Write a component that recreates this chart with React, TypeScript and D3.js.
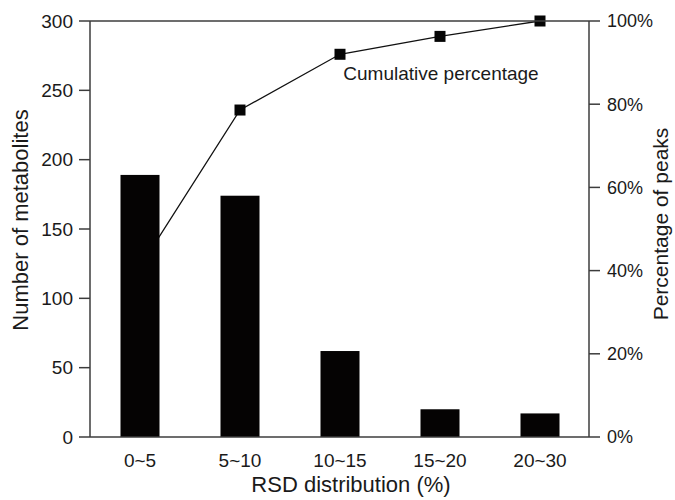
import React from "react";
import { scaleBand, scaleLinear, line } from "d3";

const categories = ["0~5", "5~10", "10~15", "15~20", "20~30"];
const counts = [189, 174, 62, 20, 17];
const cumulativePct = [40.9, 78.6, 92.0, 96.3, 100];
const countTicks = [0, 50, 100, 150, 200, 250, 300];
const pctTicks = [0, 20, 40, 60, 80, 100];

const W = 675;
const H = 500;
const left = 90;
const right = 589;
const top = 21;
const bottom = 437;
const font = "'Liberation Sans', Arial, sans-serif";
const axisColor = "#3c3c3c";

function App() {
  const x = scaleBand<string>()
    .domain(categories)
    .range([left, left + 500])
    .paddingInner(0.61)
    .paddingOuter(0.305);
  const yCount = scaleLinear().domain([0, 300]).range([bottom, top]);
  const yPct = scaleLinear().domain([0, 100]).range([bottom, top]);

  const pts = categories.map((c, i) => ({
    x: (x(c) ?? 0) + x.bandwidth() / 2,
    y: yPct(cumulativePct[i]),
  }));
  const path = line<{ x: number; y: number }>()
    .x(d => d.x)
    .y(d => d.y)(pts);

  return (
    <svg
      width={W}
      height={H}
      style={{ position: "absolute", left: 0, top: 0, background: "#fff" }}
      fontFamily={font}
    >
      {/* cumulative line sits behind the bars */}
      <path d={path ?? ""} fill="none" stroke="#111" strokeWidth={1.3} />
      {pts.map((p, i) => (
        <rect key={i} x={p.x - 5.5} y={p.y - 5.5} width={11} height={11} fill="#050505" />
      ))}

      {categories.map((c, i) => (
        <rect
          key={c}
          x={x(c)}
          y={yCount(counts[i])}
          width={x.bandwidth()}
          height={bottom - yCount(counts[i])}
          fill="#050303"
        />
      ))}

      {/* frame: left, right, bottom, top */}
      <g stroke={axisColor} strokeWidth={1.5} fill="none">
        <line x1={left} x2={left} y1={top} y2={bottom} />
        <line x1={right} x2={right} y1={top} y2={bottom} />
        <line x1={left} x2={right} y1={bottom} y2={bottom} />
        <line x1={left} x2={right} y1={top} y2={top} />
      </g>

      {countTicks.map(t => (
        <g key={t} transform={`translate(0,${yCount(t)})`}>
          <line x1={left - 11} x2={left} stroke={axisColor} strokeWidth={1.5} />
          <text x={left - 17} dy="0.35em" textAnchor="end" fontSize={19} fill="#1a1a1a">
            {t}
          </text>
        </g>
      ))}

      {pctTicks.map(t => (
        <g key={t} transform={`translate(0,${yPct(t)})`}>
          <line x1={right} x2={right + 11} stroke={axisColor} strokeWidth={1.5} />
          <text x={right + 18} dy="0.35em" fontSize={18} fill="#1a1a1a">
            {t}%
          </text>
        </g>
      ))}

      {categories.map(c => (
        <text
          key={c}
          x={(x(c) ?? 0) + x.bandwidth() / 2}
          y={467}
          textAnchor="middle"
          fontSize={19}
          fill="#1a1a1a"
        >
          {c}
        </text>
      ))}

      <text x={441} y={80} textAnchor="middle" fontSize={19} fill="#1a1a1a">
        Cumulative percentage
      </text>

      <text x={351} y={492} textAnchor="middle" fontSize={22} fill="#1a1a1a">
        RSD distribution (%)
      </text>
      <text
        transform="translate(28,220) rotate(-90)"
        textAnchor="middle"
        fontSize={22}
        fill="#1a1a1a"
      >
        Number of metabolites
      </text>
      <text
        transform="translate(668,224) rotate(-90)"
        textAnchor="middle"
        fontSize={21}
        fill="#1a1a1a"
      >
        Percentage of peaks
      </text>
    </svg>
  );
}

export default App;
